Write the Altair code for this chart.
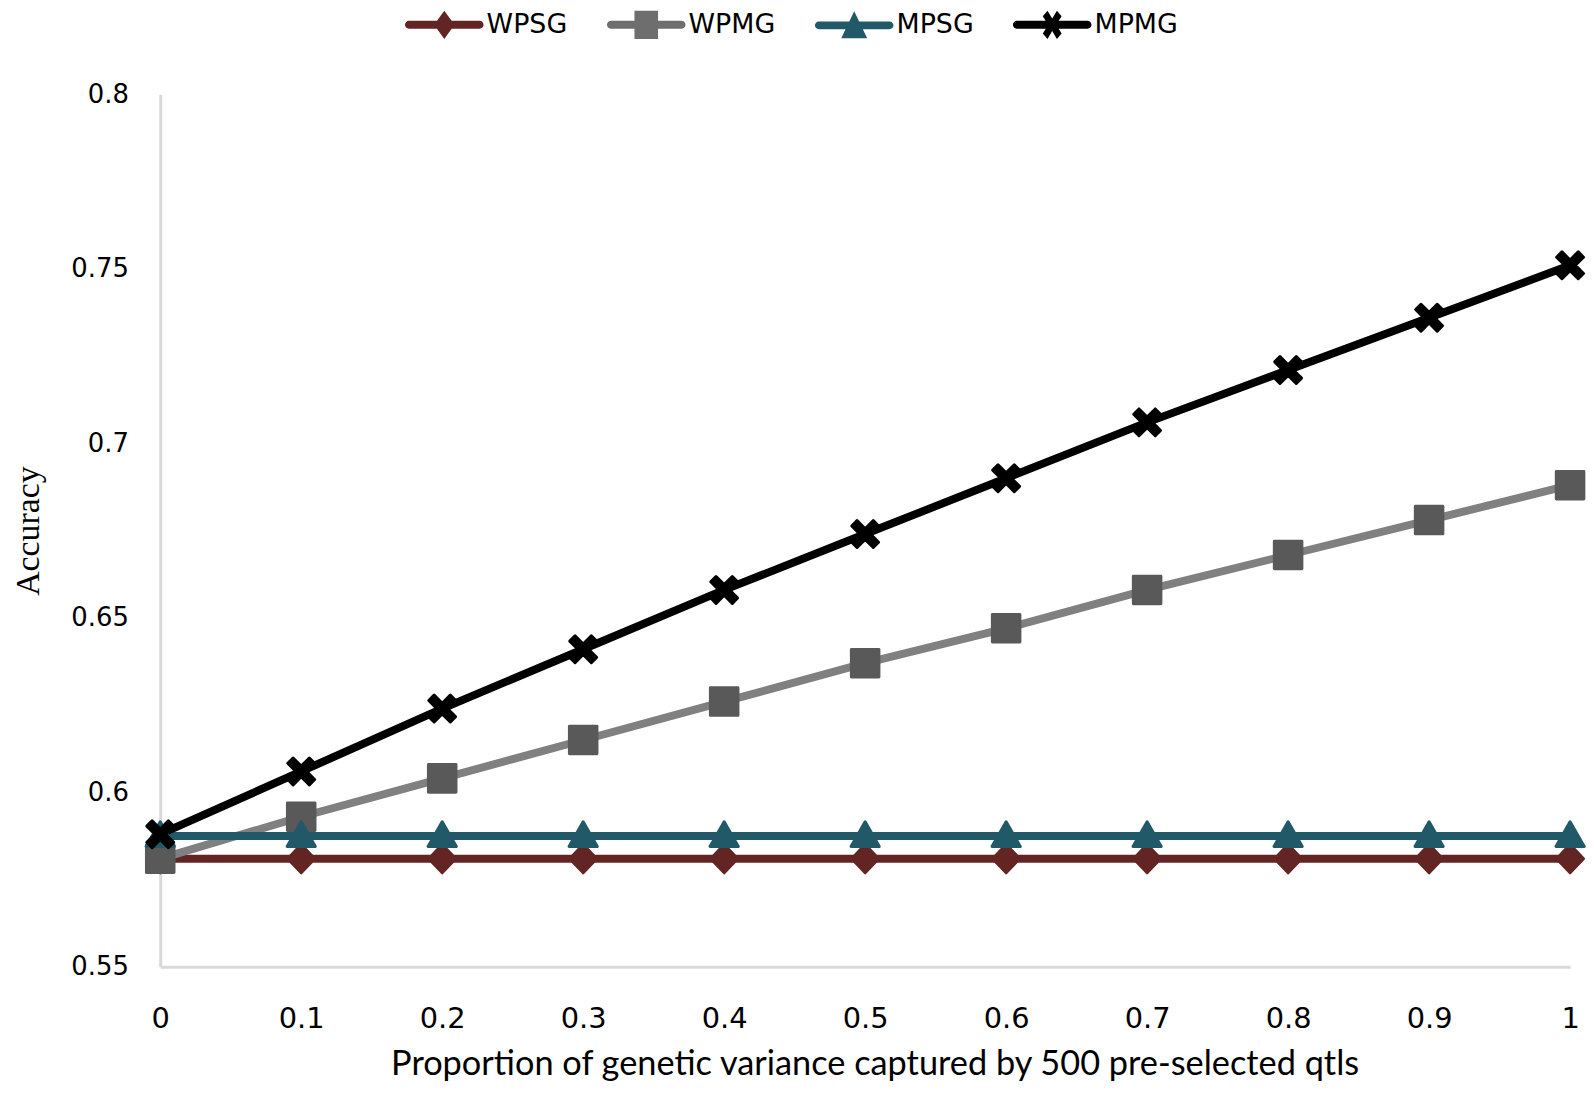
import altair as alt
import pandas as pd

# ---- data ----
x_vals = [0.0, 0.1, 0.2, 0.3, 0.4, 0.5, 0.6, 0.7, 0.8, 0.9, 1.0]
series_names = ["WPSG", "WPMG", "MPSG", "MPMG"]
wpsg = [0.581, 0.581, 0.581, 0.581, 0.581, 0.581, 0.581, 0.581, 0.581, 0.581, 0.581]
wpmg = [0.581, 0.593, 0.604, 0.615, 0.626, 0.637, 0.647, 0.658, 0.668, 0.678, 0.688]
mpsg = [0.5875, 0.5875, 0.5875, 0.5875, 0.5875, 0.5875, 0.5875, 0.5875, 0.5875, 0.5875, 0.5875]
mpmg = [0.588, 0.606, 0.624, 0.641, 0.658, 0.674, 0.690, 0.706, 0.721, 0.736, 0.751]
y_ticks = [0.55, 0.6, 0.65, 0.7, 0.75, 0.8]

rows = []
for name, vals in zip(series_names, [wpsg, wpmg, mpsg, mpmg]):
    for xv, yv in zip(x_vals, vals):
        rows.append({"x": xv, "acc": yv, "series": name})
df = pd.DataFrame(rows)

# ---- styles ----
line_colors = ["#632523", "#808080", "#215968", "#000000"]
marker_colors = ["#632523", "#595959", "#215968", "#000000"]
legend_colors = ["#632523", "#6e6e6e", "#215968", "#000000"]

# chart marker shapes
diamond_p = "M0,-0.4L0.38,0L0,0.4L-0.38,0Z"
square_p = "M-0.39,-0.39H0.39V0.39H-0.39Z"
triangle_p = "M0,-0.4L0.4,0.3H-0.4Z"
x_p = ("M-0.38,-0.23L-0.23,-0.38L0,-0.15L0.23,-0.38L0.38,-0.23L0.15,0L0.38,0.23"
       "L0.23,0.38L0,0.15L-0.23,0.38L-0.38,0.23L-0.15,0Z")
shapes = [diamond_p, square_p, triangle_p, x_p]

# legend symbols: a line with the marker on it
bar = "M-0.9,-0.1H0.9A0.1,0.1 0 0 1 0.9,0.1H-0.9A0.1,0.1 0 0 1 -0.9,-0.1Z"
legend_shapes = [
    bar + "M0,-0.36L0.26,0L0,0.36L-0.26,0Z",
    bar + "M-0.3,-0.36H0.3V0.36H-0.3Z",
    bar + "M0,-0.36L0.33,0.33H-0.33Z",
    bar + ("M-0.24,-0.22L-0.12,-0.36L0,-0.16L0.12,-0.36L0.24,-0.22L0.1,0L0.24,0.22"
           "L0.12,0.36L0,0.16L-0.12,0.36L-0.24,0.22L-0.1,0Z"),
]

PT = 71        # chart marker box (px)
LEG = 79       # legend symbol width (px)
SW = 8         # line width

x_enc = alt.X(
    "x:Q",
    scale=alt.Scale(domain=[0, 1], nice=False),
    axis=alt.Axis(
        values=x_vals, format="~g", grid=False, ticks=False, labelFlush=False,
        domainColor="#d9d9d9", domainWidth=3,
        labelFont="DejaVu Sans", labelFontSize=29, labelColor="#000000", labelPadding=38,
        title="Proportion of genetic variance captured by 500 pre-selected qtls",
        titleFont="Lato", titleFontSize=34.5, titleFontWeight="normal", titleColor="#000000",
        titleX=718, titleY=108, titleBaseline="alphabetic", titleAlign="center",
    ),
)
y_enc = alt.Y(
    "acc:Q",
    scale=alt.Scale(domain=[0.55, 0.8], nice=False, zero=False),
    axis=alt.Axis(
        values=y_ticks, format="~g", grid=False, ticks=False,
        domainColor="#d9d9d9", domainWidth=3,
        labelFont="DejaVu Sans", labelFontSize=26, labelColor="#000000", labelPadding=32,
        title="Accuracy", titleFont="Liberation Serif", titleFontSize=34,
        titleFontWeight="normal", titleColor="#000000",
        titleX=-132, titleY=438.5, titleAngle=270, titleBaseline="middle", titleAlign="center",
    ),
)

lines = alt.Chart(df).mark_line(strokeWidth=SW, strokeCap="round", strokeJoin="round").encode(
    x=x_enc,
    y=y_enc,
    stroke=alt.Stroke("series:N", scale=alt.Scale(domain=series_names, range=line_colors), legend=None),
    detail="series:N",
)

points = alt.Chart(df).mark_point(filled=True, size=PT * PT, strokeWidth=3, strokeJoin="round", opacity=1).encode(
    x="x:Q",
    y="acc:Q",
    fill=alt.Fill("series:N", scale=alt.Scale(domain=series_names, range=marker_colors), legend=None),
    stroke=alt.Stroke("series:N", scale=alt.Scale(domain=series_names, range=marker_colors), legend=None),
    shape=alt.Shape("series:N", scale=alt.Scale(domain=series_names, range=shapes), legend=None),
)

legend_def = alt.Legend(
    title=None, orient="none", direction="horizontal",
    legendX=246, legendY=-109.5, padding=0,
    symbolSize=LEG * LEG, symbolStrokeWidth=0, symbolOpacity=1,
    columnPadding=39, labelOffset=3,
    labelFont="DejaVu Sans", labelFontSize=27, labelColor="#000000",
)

legend_layer = alt.Chart(df).transform_filter("false").mark_point(filled=True).encode(
    x="x:Q",
    y="acc:Q",
    fill=alt.Fill("series:N", scale=alt.Scale(domain=series_names, range=legend_colors), legend=legend_def),
    shape=alt.Shape("series:N", scale=alt.Scale(domain=series_names, range=legend_shapes), legend=legend_def),
)

chart = (
    alt.layer(lines, points, legend_layer)
    .resolve_scale(stroke="independent", fill="independent", shape="independent")
    .properties(
        width=1417, height=877,
        autosize=alt.AutoSizeParams(type="none"),
        padding={"left": 153, "top": 84, "right": 16, "bottom": 114},
    )
    .configure_view(stroke=None)
)

chart.save("out.html", embed_options={"renderer": "svg", "actions": False})
